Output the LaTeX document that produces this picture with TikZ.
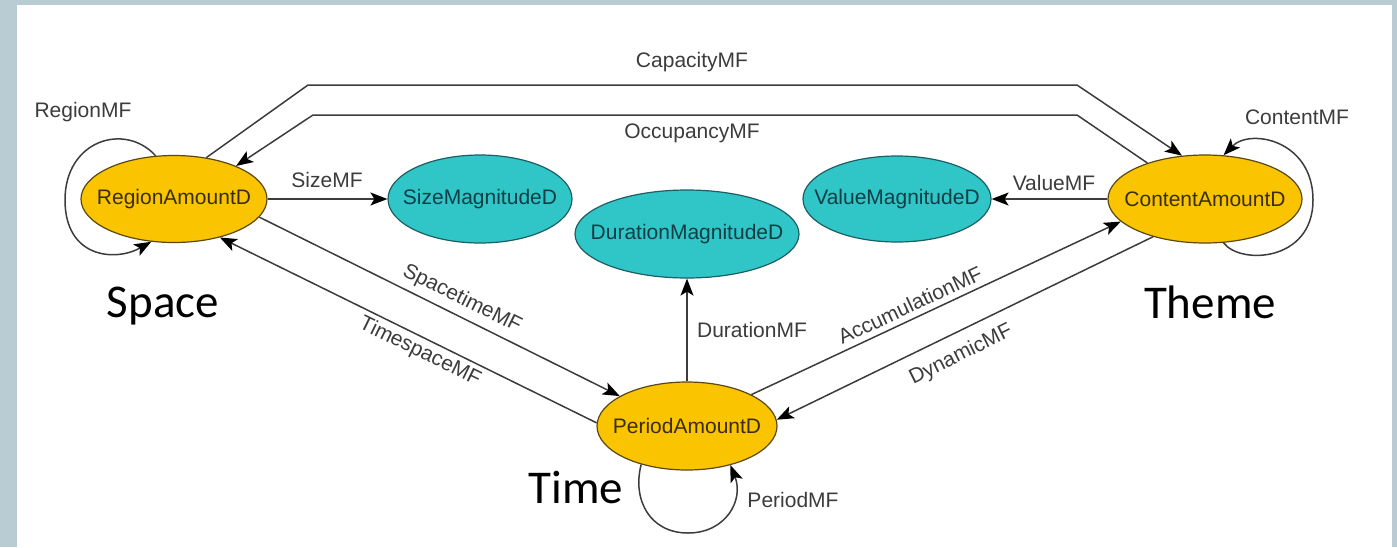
\documentclass[tikz,border=0pt]{standalone}
\usepackage{fontspec}
\setmainfont{Liberation Sans}
\newfontfamily\bigfont{Carlito}
\usetikzlibrary{shapes.geometric,arrows.meta}
\definecolor{bgblue}{HTML}{B9CBD3}
\definecolor{amber}{HTML}{FAC400}
\definecolor{amberline}{HTML}{5A4810}
\definecolor{teal2}{HTML}{30C6C8}
\definecolor{tealline}{HTML}{1D5E62}
\definecolor{ink}{HTML}{3C3C3C}
\definecolor{amtext}{HTML}{3A2E08}
\definecolor{tltext}{HTML}{0E3E44}
% zero-width box so the ellipse size comes only from minimum width/height
\newcommand\flatlabel[1]{\makebox[0pt]{#1}}
\begin{document}
\begin{tikzpicture}[x=1pt,y=-1pt,
  amount/.style={ellipse, draw=amberline, fill=amber, line width=1.2pt, inner sep=0pt,
    text=amtext, font=\fontsize{21}{25}\selectfont},
  magnitude/.style={ellipse, draw=tealline, fill=teal2, line width=1.2pt, inner sep=0pt,
    text=tltext, font=\fontsize{21}{25}\selectfont},
  rel/.style={draw=ink, line width=1.5pt,
    -{Stealth[length=17pt,width=13pt,inset=4pt,color=black]}},
  lbl/.style={text=ink, font=\fontsize{21}{25}\selectfont, inner sep=0pt},
  aspectlbl/.style={font=\bigfont\fontsize{47}{56}\selectfont, text=black, inner sep=0pt, anchor=base}]

% frame and white panel
\useasboundingbox (0,0) rectangle (1397,547);
\fill[bgblue] (0,0) rectangle (1397,547);
\fill[white] (17,5) rectangle (1392,547);

% concept nodes
\node[amount, minimum width=186pt, minimum height=87pt] (R) at (174,199) {\flatlabel{RegionAmountD}};
\node[magnitude, minimum width=184pt, minimum height=88pt] (S) at (480,199) {\flatlabel{SizeMagnitudeD}};
\node[magnitude, minimum width=224pt, minimum height=88pt] (Du) at (687,234) {\flatlabel{DurationMagnitudeD}};
\node[magnitude, minimum width=188pt, minimum height=86pt] (V) at (897,199) {\flatlabel{ValueMagnitudeD}};
\node[amount, minimum width=194pt, minimum height=88pt] (C) at (1205,199) {\flatlabel{ContentAmountD}};
\node[amount, minimum width=180pt, minimum height=88pt] (P) at (687,426) {\flatlabel{PeriodAmountD}};

% bend points of the long connectors and loop extremes
\coordinate (capL) at (308,85);
\coordinate (capR) at (1077,85);
\coordinate (occR) at (1077,115);
\coordinate (occL) at (313,115);
\coordinate (rl) at (65,200);
\coordinate (cl) at (1313,200);
\coordinate (pl) at (688,533);

% connectors
\draw[rel] (R.52) -- (capL) -- (capR) -- (C.118);
\draw[rel] (C.148) -- (occR) -- (occL) -- (R.28);
\draw[rel] (R.east) -- (S.west);
\draw[rel] (C.west) -- (V.east);
\draw[rel] (P.north) -- (Du.south);
\draw[rel] (R.-12) -- (P.156);
\draw[rel] (P.178) -- (R.-40);
\draw[rel] (P.26) -- (C.-165);
\draw[rel] (C.-144) -- (P.4);
\draw[rel] (R.113) .. controls (125,122) and (65,140) .. (rl)
                  .. controls (65,258) and (115,262) .. (R.-118);
\draw[rel] (C.-67) .. controls (1240,265) and (1313,262) .. (cl)
                  .. controls (1313,140) and (1250,128) .. (C.67);
\draw[rel] (P.-140) .. controls (632,500) and (650,533) .. (pl)
                   .. controls (726,533) and (744,500) .. (P.-42);

% connector labels
\node[lbl] (lcap) at (692,62) {CapacityMF};
\node[lbl] (locc) at (692,133) {OccupancyMF};
\node[lbl] (lreg) at (83,112) {RegionMF};
\node[lbl] (lcon) at (1297,117) {ContentMF};
\node[lbl] (lsize) at (327,180) {SizeMF};
\node[lbl] (lval) at (1054,183) {ValueMF};
\node[lbl] (ldur) at (752,330) {DurationMF};
\node[lbl] (lper) at (793,500) {PeriodMF};
\node[lbl, rotate=-26.4] (lst) at (462,299) {SpacetimeMF};
\node[lbl, rotate=-26.1] (lts) at (420,352) {TimespaceMF};
\node[lbl, rotate=25] (lacc) at (910,305) {AccumulationMF};
\node[lbl, rotate=26.4] (ldyn) at (961,355) {DynamicMF};

% aspect captions
\node[aspectlbl] (space) at (163,317) {Space};
\node[aspectlbl] (theme) at (1210,318) {Theme};
\node[aspectlbl] (time) at (576,503) {Time};
\end{tikzpicture}
\end{document}
